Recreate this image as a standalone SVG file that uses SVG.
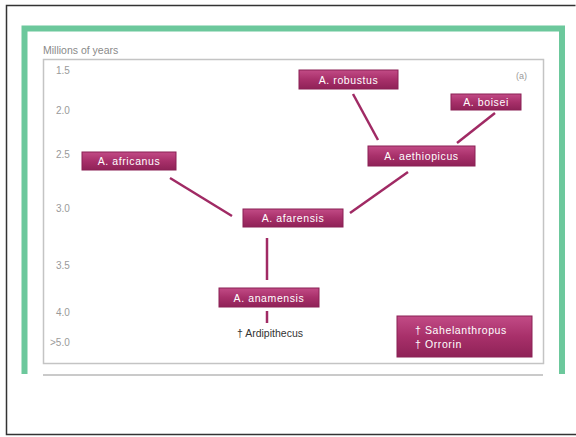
<svg xmlns="http://www.w3.org/2000/svg" width="576" height="437" viewBox="0 0 576 437">
<defs>
<linearGradient id="g" x1="0" y1="0" x2="0" y2="1">
<stop offset="0" stop-color="#c24b86"/>
<stop offset="0.5" stop-color="#a8306a"/>
<stop offset="1" stop-color="#8f2257"/>
</linearGradient>
<style>
.box{fill:url(#g);stroke:#8a2055;stroke-width:1}
.lbl{font-family:"Liberation Sans",Arial,sans-serif;font-size:10.5px;fill:#ffffff;text-anchor:middle;letter-spacing:0.6px}
.ax{font-family:"Liberation Sans",Arial,sans-serif;font-size:10px;fill:#9a9a9a}
.con{stroke:#a02a64;stroke-width:2.5;fill:none}
</style>
</defs>
<rect x="0" y="0" width="576" height="437" fill="#ffffff"/>
<path d="M575.5 5.5 H6.5 V434.5 H576" fill="none" stroke="#333" stroke-width="1.5"/>
<path d="M24.5 374 V28.5 H562 V374" fill="none" stroke="#6cc89c" stroke-width="6"/>
<rect x="43.5" y="59.5" width="500" height="304" fill="#ffffff" stroke="#c4c4c4" stroke-width="1.5"/>
<line x1="43" y1="375" x2="543" y2="375" stroke="#b8b8b8" stroke-width="1.5"/>
<text x="43" y="54" class="ax" style="font-size:10.5px;fill:#8a8a8a">Millions of years</text>
<text x="56" y="74" class="ax">1.5</text>
<text x="56" y="114" class="ax">2.0</text>
<text x="56" y="158" class="ax">2.5</text>
<text x="56" y="212" class="ax">3.0</text>
<text x="56" y="269" class="ax">3.5</text>
<text x="56" y="316" class="ax">4.0</text>
<text x="50" y="346" class="ax">&gt;5.0</text>
<text x="516" y="79" class="ax" style="font-size:9px">(a)</text>
<g id="connectors">
<line class="con" x1="170" y1="178" x2="232" y2="216"/>
<line class="con" x1="350" y1="213" x2="408" y2="172"/>
<line class="con" x1="353" y1="94" x2="378" y2="140"/>
<line class="con" x1="495" y1="113" x2="457" y2="143"/>
<line class="con" x1="267" y1="238" x2="267" y2="280"/>
<line class="con" x1="267" y1="311" x2="267" y2="323"/>
</g>
<g id="africanus"><rect class="box" x="82" y="152" width="94" height="18"/><text class="lbl" x="129" y="165">A. africanus</text></g>
<g id="afarensis"><rect class="box" x="243" y="209" width="100" height="18"/><text class="lbl" x="293" y="222">A. afarensis</text></g>
<g id="anamensis"><rect class="box" x="219" y="288" width="100" height="19"/><text class="lbl" x="269" y="301.5">A. anamensis</text></g>
<g id="robustus"><rect class="box" x="299" y="70" width="99" height="19"/><text class="lbl" x="348.5" y="83.5">A. robustus</text></g>
<g id="boisei"><rect class="box" x="451" y="94" width="70" height="16"/><text class="lbl" x="486" y="106">A. boisei</text></g>
<g id="aethiopicus"><rect class="box" x="368" y="146" width="107" height="20"/><text class="lbl" x="421.5" y="160">A. aethiopicus</text></g>
<g id="ardipithecus"><text x="270" y="337" style="font-family:'Liberation Sans',Arial,sans-serif;font-size:10.5px;fill:#333;text-anchor:middle">† Ardipithecus</text></g>
<g id="sahelanthropus"><rect class="box" x="397" y="316" width="135" height="41"/><text class="lbl" x="415" y="334" style="text-anchor:start">† Sahelanthropus</text><text class="lbl" x="415" y="347.5" style="text-anchor:start">† Orrorin</text></g>
</svg>
